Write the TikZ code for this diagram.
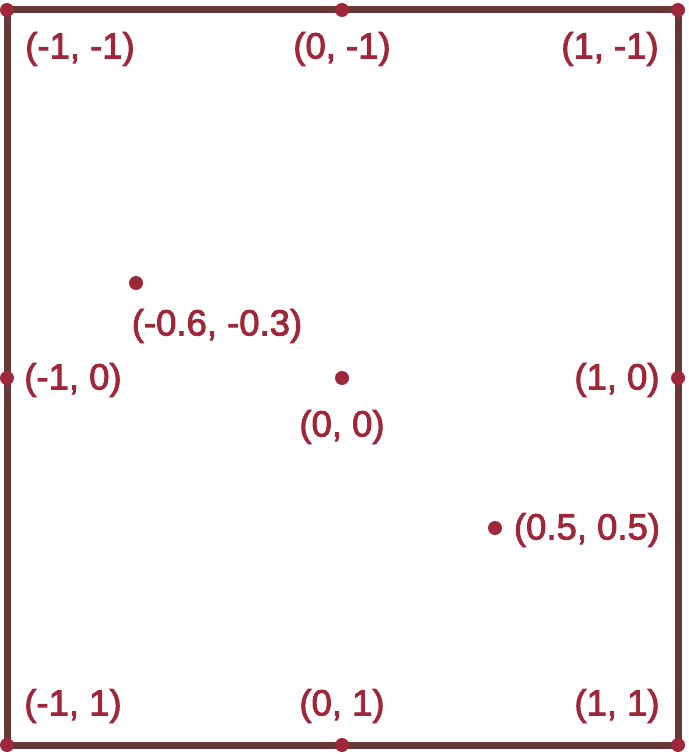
\documentclass[tikz,border=0pt]{standalone}
\usepackage{fontspec}
\setmainfont{Liberation Sans}[FakeBold=2.5]
\usepackage{tikz}

\definecolor{frame}{RGB}{99,56,54}
\definecolor{pointred}{RGB}{158,40,58}

\begin{document}
\begin{tikzpicture}[x=1pt, y=-1pt,
    pt/.style={circle, fill=pointred, inner sep=0pt, minimum size=14pt},
    lbl/.style={text=pointred, inner sep=0pt, font=\fontsize{36.5}{40}\selectfont}]
            \useasboundingbox (0,0) rectangle (688,754);

            % Corners of the square
            \coordinate (c1) at (7, 10);
            \coordinate (c2) at (678, 10);
            \coordinate (c3) at (678, 745);
            \coordinate (c4) at (7, 745);

            % Edges
            \draw[frame, line width=7pt, line join=miter] (c1) -- (c2) -- (c3) -- (c4) -- cycle;

            % Nodes
            \node[pt] (TL) at (c1) {};
            \node[pt] (TM) at (342, 10) {};
            \node[pt] (TR) at (c2) {};
            \node[pt] (ML) at (7, 378) {};
            \node[pt] (MR) at (678, 378) {};
            \node[pt] (BL) at (c4) {};
            \node[pt] (BM) at (342, 745) {};
            \node[pt] (BR) at (c3) {};
            \node[pt] (P) at (136, 283) {};
            \node[pt] (O) at (342, 378) {};
            \node[pt] (Q) at (495, 528) {};

            % Additional labels
            \node[lbl] at (80, 49) {(-1, -1)};
            \node[lbl] at (342, 49) {(0, -1)};
            \node[lbl] at (610, 49) {(1, -1)};
            \node[lbl] at (217, 326) {(-0.6, -0.3)};
            \node[lbl] at (73, 380) {(-1, 0)};
            \node[lbl] at (342, 427) {(0, 0)};
            \node[lbl] at (617, 380) {(1, 0)};
            \node[lbl] at (587, 530) {(0.5, 0.5)};
            \node[lbl] at (73, 706) {(-1, 1)};
            \node[lbl] at (342, 706) {(0, 1)};
            \node[lbl] at (617, 706) {(1, 1)};
        \end{tikzpicture}
\end{document}
